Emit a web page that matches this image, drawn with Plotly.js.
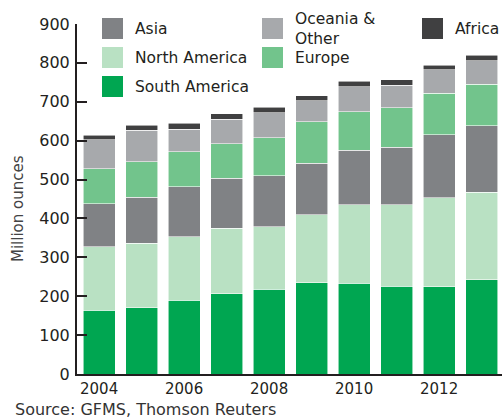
<!DOCTYPE html>
<html><head><meta charset="utf-8">
<script src="https://cdn.plot.ly/plotly-3.0.1.min.js"></script>
<style>html,body{margin:0;padding:0;background:#fff}#chart{width:502px;height:419px}</style>
</head><body><div id="chart"></div>
<script>
// Data (million ounces)
const years = [2004, 2005, 2006, 2007, 2008, 2009, 2010, 2011, 2012, 2013];
const southAmerica = [164, 170, 190, 206, 218, 235, 233, 226, 224, 242];
const northAmerica = [163, 166, 163, 169, 161, 174, 202, 209, 229, 225];
const asia         = [111, 119, 128, 128, 131, 133, 141, 148, 162, 172];
const europe       = [ 90,  91,  91,  89,  98, 107,  99, 102, 107, 106];
const oceania      = [ 74,  81,  57,  63,  64,  54,  64,  58,  60,  61];
const africa       = [ 12,  13,  16,  14,  14,  13,  14,  14,  12,  14];
const seriesNames  = ['South America', 'North America', 'Asia', 'Europe', 'Oceania &<br>Other', 'Africa'];
const xTickVals    = [2004, 2006, 2008, 2010, 2012];
const yTickVals    = [0, 100, 200, 300, 400, 500, 600, 700, 800, 900];

const seriesValues = [southAmerica, northAmerica, asia, europe, oceania, africa];
const colors = ['#00a651', '#b9e1c3', '#808285', '#72c48c', '#a7a9ac', '#404041'];

const traces = seriesValues.map((vals, i) => ({
  type: 'bar',
  x: years,
  y: vals,
  name: seriesNames[i],
  width: 0.75,
  marker: { color: colors[i], line: { color: 'rgba(255,255,255,0.7)', width: 0.8 } },
  showlegend: false,
  hoverinfo: 'x+y+name'
}));

// plot area geometry (pixels) for placing the hand-made legend
const W = 502, H = 419, L = 77, R = 0, T = 24, B = 45;
const pw = W - L - R, ph = H - T - B;
const px = x => (x - L) / pw;
const py = y => (H - B - y) / ph;

// legend layout: [seriesIndex, squareLeftPx, squareTopPx]
const legendSlots = [[2, 102, 18], [1, 102, 47], [0, 102, 76], [4, 262, 18], [3, 262, 47], [5, 422, 18]];
const shapes = [], annotations = [];
const sq = 21;
legendSlots.forEach(([i, sx, sy]) => {
  shapes.push({ type: 'rect', xref: 'paper', yref: 'paper',
    x0: px(sx), x1: px(sx + sq), y0: py(sy + sq), y1: py(sy),
    fillcolor: colors[i], line: { width: 0 } });
  annotations.push({ xref: 'paper', yref: 'paper', x: px(sx + sq + 10), y: py(sy + sq / 2 + (i === 4 ? 0 : 1)),
    xanchor: 'left', yanchor: 'middle', align: 'left', showarrow: false,
    text: seriesNames[i], font: { family: 'DejaVu Sans', size: 15.5, color: '#231f20' } });
});
annotations.push({ xref: 'paper', yref: 'paper', x: px(13), y: py(409.5), xanchor: 'left', yanchor: 'middle',
  showarrow: false, text: 'Source: GFMS, Thomson Reuters',
  font: { family: 'DejaVu Sans', size: 16, color: '#333333' } });
annotations.push({ xref: 'paper', yref: 'paper', x: px(18), y: py(209), xanchor: 'center', yanchor: 'middle',
  textangle: -90, showarrow: false, text: 'Million ounces',
  font: { family: 'DejaVu Sans', size: 15, color: '#444444' } });

const layout = {
  width: W, height: H,
  margin: { l: L, r: R, t: T, b: B, pad: 0 },
  paper_bgcolor: '#ffffff', plot_bgcolor: '#ffffff',
  barmode: 'stack',
  showlegend: false,
  font: { family: 'DejaVu Sans', color: '#231f20' },
  xaxis: {
    range: [2003.48, 2013.48], tickvals: xTickVals, ticktext: xTickVals.map(String),
    showgrid: false, zeroline: false, showline: true, linecolor: '#231f20', linewidth: 2,
    ticks: '', tickfont: { size: 15, color: '#231f20' }, fixedrange: true
  },
  yaxis: {
    range: [0, 900], tickvals: yTickVals, showgrid: false, zeroline: false,
    showline: true, linecolor: '#231f20', linewidth: 2,
    ticks: 'inside', ticklen: 10, tickwidth: 2, tickcolor: '#231f20',
    tickfont: { size: 16, color: '#231f20' }, ticklabelstandoff: 2, fixedrange: true
  },
  shapes: shapes,
  annotations: annotations
};

Plotly.newPlot('chart', traces, layout, { displayModeBar: false, staticPlot: true });
</script>
</body></html>
